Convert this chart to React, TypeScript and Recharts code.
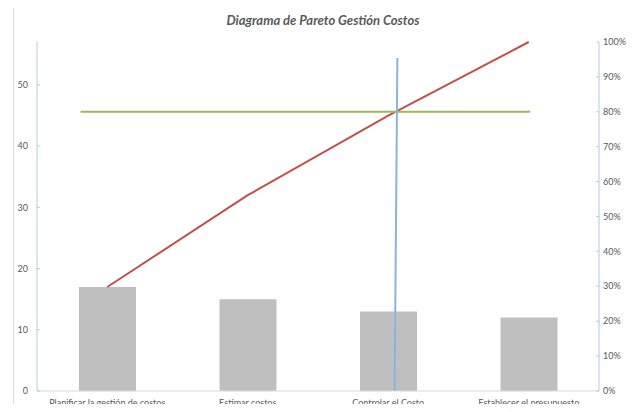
import React from "react";
import {
  ComposedChart,
  Bar,
  Line,
  XAxis,
  YAxis,
  ReferenceLine,
} from "recharts";

const categories = [
  "Planificar la gestión de costos",
  "Estimar costos",
  "Controlar el Costo",
  "Establecer el presupuesto",
];
const frequency = [17, 15, 13, 12];
const cumulativePct = [29.8, 56.1, 78.9, 100];

const countTicks = [0, 10, 20, 30, 40, 50];
const pctTicks = [0, 10, 20, 30, 40, 50, 60, 70, 80, 90, 100];

// 80% target line and the vertical cut-off line (x on a 0..4 category scale)
const targetLine = [
  { x: 0.31, pct: 80 },
  { x: 3.51, pct: 80 },
];
const cutLine = [
  { x: 2.545, pct: 0 },
  { x: 2.565, pct: 95.4 },
];

const total = frequency.reduce((a, b) => a + b, 0);

const data = categories.map((name, i) => ({
  name,
  pos: i + 0.5,
  freq: frequency[i],
  cum: cumulativePct[i],
}));

const FONT = "Lato, 'Open Sans', sans-serif";
const tickStyle = { fontSize: 9, fill: "#595959", fontFamily: FONT };

export default function App() {
  return (
    <div style={{ position: "relative", margin: -8, width: 636, height: 412 }}>
      <div
        style={{
          position: "absolute",
          left: 13,
          top: 4,
          width: 619,
          height: 408,
          borderTop: "1px solid #d9d9d9",
          borderLeft: "1px solid #d9d9d9",
          borderRight: "1px solid #d9d9d9",
          boxSizing: "border-box",
        }}
      />
      <div
        style={{
          position: "absolute",
          left: 13,
          width: 620,
          top: 12,
          textAlign: "center",
          fontFamily: FONT,
          fontSize: 13,
          fontWeight: "bold",
          fontStyle: "italic",
          color: "#595959",
        }}
      >
        Diagrama de Pareto Gestión Costos
      </div>
      <ComposedChart
        width={636}
        height={412}
        data={data}
        margin={{ top: 42, right: 0, left: 13, bottom: 0 }}
        style={{ position: "absolute", left: 0, top: 0 }}
      >
        <XAxis
          dataKey="name"
          xAxisId="cat"
          height={21}
          tick={tickStyle}
          tickLine={false}
          axisLine={{ stroke: "#d9d9d9" }}
          interval={0}
          tickMargin={3}
        />
        <XAxis
          xAxisId="num"
          dataKey="pos"
          type="number"
          domain={[0, 4]}
          allowDataOverflow
          hide
        />
        <YAxis
          yAxisId="count"
          orientation="left"
          width={24}
          domain={[0, total]}
          ticks={countTicks}
          tick={tickStyle}
          tickSize={-3}
          tickMargin={12}
          tickLine={{ stroke: "#b4c7e7" }}
          axisLine={{ stroke: "#b4c7e7" }}
          allowDataOverflow
        />
        <YAxis
          yAxisId="pct"
          orientation="right"
          width={37}
          domain={[0, 100]}
          ticks={pctTicks}
          tickFormatter={(v: number) => `${v}%`}
          tick={tickStyle}
          tickSize={-3}
          tickMargin={7}
          tickLine={{ stroke: "#b4c7e7" }}
          axisLine={{ stroke: "#b4c7e7" }}
        />
        <Bar
          dataKey="freq"
          xAxisId="cat"
          yAxisId="count"
          fill="#bfbfbf"
          barSize={57}
          isAnimationActive={false}
        />
        <Line
          dataKey="cum"
          xAxisId="cat"
          yAxisId="pct"
          stroke="#c0504d"
          strokeWidth={2}
          dot={false}
          isAnimationActive={false}
        />
        <ReferenceLine
          xAxisId="num"
          yAxisId="pct"
          segment={targetLine.map((p) => ({ x: p.x, y: p.pct }))}
          stroke="#9bbb59"
          strokeWidth={2}
          ifOverflow="visible"
        />
        <ReferenceLine
          xAxisId="num"
          yAxisId="pct"
          segment={cutLine.map((p) => ({ x: p.x, y: p.pct }))}
          stroke="#8db3e2"
          strokeWidth={2}
          ifOverflow="visible"
        />
      </ComposedChart>
    </div>
  );
}
